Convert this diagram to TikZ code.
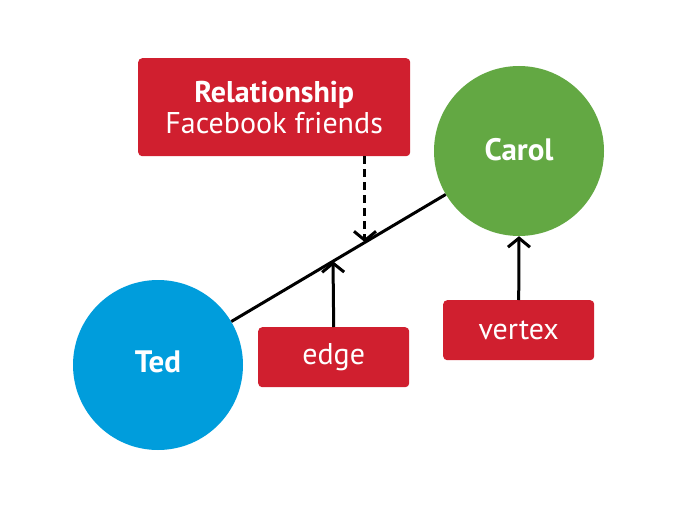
\documentclass[tikz,border=0pt]{standalone}
\usepackage{fontspec}
\setmainfont{PT Sans}
\usetikzlibrary{arrows.meta}
\definecolor{boxred}{HTML}{D01F2F}
\definecolor{carolgreen}{HTML}{63A843}
\definecolor{tedblue}{HTML}{009DDC}
\tikzset{
  labelbox/.style={fill=boxred, rounded corners=4pt, text=white, inner sep=0pt, anchor=north west, font=\fontsize{30}{32}\selectfont},
  vert/.style={circle, minimum size=170pt, inner sep=0pt, text=white, font=\bfseries\fontsize{31}{34}\selectfont},
  conn/.style={line width=3pt, black},
  tip/.style={-{Straight Barb[length=9pt,width=22pt,line width=3pt]}},
}
\begin{document}
\begin{tikzpicture}[x=1pt,y=-1pt]
\useasboundingbox (0,0) rectangle (680,516);
\node[vert, fill=carolgreen] (carol) at (519,151) {\raisebox{4pt}{Carol}};
\node[vert, fill=tedblue] (ted) at (158,365) {\raisebox{6pt}{Ted}};
\node[labelbox, minimum width=272pt, minimum height=98pt, align=center] (rel) at (138,58)
  {\textbf{Relationship}\\[-1pt]Facebook friends};
\node[labelbox, minimum width=151pt, minimum height=60pt] (edge) at (258,327) {edge};
\node[labelbox, minimum width=151pt, minimum height=60pt] (vertex) at (443,300) {vertex};
\draw[conn] (ted) -- (carol);
\path (ted.center) -- (carol.center) coordinate[pos=0.4848] (edgehit) coordinate[pos=0.5734] (relhit);
\draw[conn, tip] (edge.north) -- (edgehit);
\draw[conn, tip] (vertex.north) -- (carol.south);
\draw[conn, tip, dash pattern=on 8pt off 5pt] (rel.south -| relhit) -- (relhit);
\end{tikzpicture}
\end{document}
